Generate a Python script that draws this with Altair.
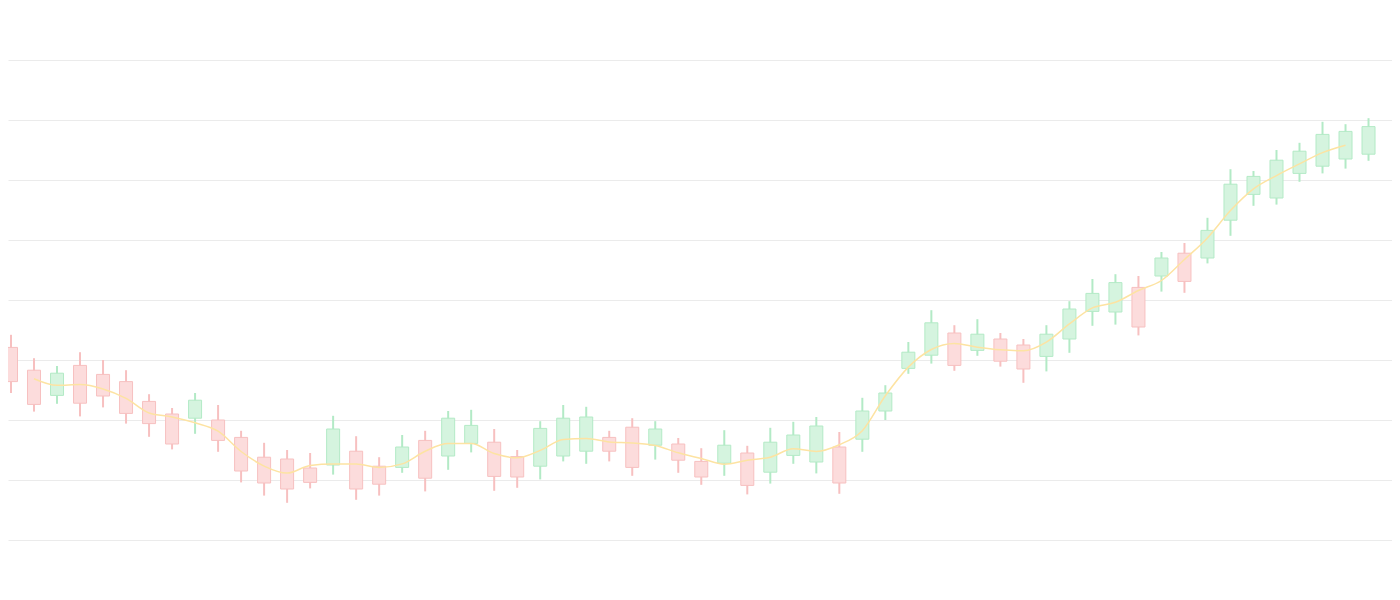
import altair as alt
import pandas as pd

opens = [112.1, 108.3, 104.1, 109.1, 107.6, 106.4, 103.1, 101.0, 100.3, 100.0,
         97.1, 93.8, 93.5, 92.0, 92.5, 94.8, 92.3, 92.1, 96.6, 94.0,
         96.1, 96.3, 93.9, 92.3, 94.0, 94.8, 97.1, 98.8, 95.8, 96.0,
         93.1, 92.8, 94.5, 91.3, 94.1, 93.0, 95.5, 96.8, 101.5, 108.6,
         110.8, 114.5, 111.6, 113.5, 112.5, 110.6, 113.5, 118.1, 118.0, 122.1,
         124.0, 127.8, 127.0, 133.3, 137.6, 137.0, 141.1, 142.3, 143.5, 144.3]
highs = [114.2, 110.3, 109.0, 111.3, 110.0, 108.3, 104.3, 102.0, 104.5, 102.5,
         98.2, 96.2, 95.0, 94.5, 100.7, 97.3, 93.8, 97.5, 98.2, 101.5,
         101.7, 98.5, 95.0, 99.8, 102.5, 102.2, 98.2, 100.3, 99.8, 97.0,
         95.3, 98.3, 95.7, 98.7, 99.7, 100.5, 98.0, 103.7, 105.8, 113.0,
         118.3, 115.8, 116.8, 114.5, 113.5, 115.8, 119.8, 123.5, 124.3, 124.0,
         128.0, 129.5, 133.7, 141.8, 141.5, 145.0, 146.2, 149.7, 149.3, 150.3]
lows = [104.5, 101.4, 102.7, 100.6, 102.1, 99.4, 97.2, 95.1, 97.7, 94.7,
        89.6, 87.4, 86.2, 88.6, 90.9, 86.7, 87.4, 91.2, 88.1, 91.7,
        94.6, 88.2, 88.7, 90.1, 93.1, 92.7, 93.1, 90.7, 93.4, 91.2,
        89.2, 90.7, 87.6, 89.4, 92.7, 91.1, 87.7, 94.7, 100.0, 107.7,
        109.4, 108.2, 110.7, 108.9, 106.2, 108.1, 111.2, 115.7, 115.9, 114.1,
        121.4, 121.2, 126.1, 130.7, 135.7, 135.9, 139.7, 141.1, 141.9, 143.2]
closes = [106.4, 102.6, 107.8, 102.8, 104.0, 101.1, 99.4, 96.0, 103.3, 96.6,
          91.5, 89.5, 88.5, 89.6, 98.5, 88.5, 89.3, 95.5, 90.3, 100.3,
          99.1, 90.6, 90.5, 98.6, 100.3, 100.5, 94.8, 92.1, 98.5, 93.3,
          90.5, 95.8, 89.1, 96.3, 97.5, 99.0, 89.5, 101.5, 104.5, 111.3,
          116.2, 109.1, 114.3, 109.8, 108.5, 114.3, 118.5, 121.1, 122.9, 115.5,
          127.0, 123.1, 131.6, 139.3, 140.6, 143.3, 144.8, 147.6, 148.1, 148.9]
grid_values = [80, 90, 100, 110, 120, 130, 140, 150, 160, 170]

df = pd.DataFrame({
    "i": list(range(len(opens))),
    "open": opens, "high": highs, "low": lows, "close": closes,
})

RED_FILL, RED_STROKE = "#fcdcdc", "#f7c0c0"
GRN_FILL, GRN_STROKE = "#d5f4df", "#b3eac6"

xscale = alt.Scale(domain=[-0.1304, 60.02], nice=False, zero=False, padding=0)
yscale = alt.Scale(domain=[80, 168.667], nice=False, zero=False, padding=0)

base = alt.Chart(df).transform_calculate(
    dir="datum.close >= datum.open ? 'up' : 'down'"
)

x = alt.X("i:Q", scale=xscale, axis=None)

wicks = base.mark_rule(strokeWidth=2).encode(
    x=x,
    y=alt.Y("low:Q", scale=yscale,
            axis=alt.Axis(values=grid_values, labels=False, ticks=False,
                          domain=False, grid=True, gridColor="#ebebeb", gridWidth=1,
                          title=None)),
    y2="high:Q",
    color=alt.Color("dir:N", scale=alt.Scale(domain=["up", "down"], range=[GRN_STROKE, RED_STROKE]),
                    legend=None),
)

boxes = base.mark_bar(size=13, strokeWidth=1).encode(
    x=x,
    y=alt.Y("open:Q", scale=yscale),
    y2="close:Q",
    fill=alt.Fill("dir:N", scale=alt.Scale(domain=["up", "down"], range=[GRN_FILL, RED_FILL]),
                  legend=None),
    stroke=alt.Stroke("dir:N", scale=alt.Scale(domain=["up", "down"], range=[GRN_STROKE, RED_STROKE]),
                      legend=None),
)

ma = base.transform_calculate(
    mid="(datum.open + datum.close) / 2"
).transform_window(
    ma="mean(mid)", n="count()", frame=[-1, 1], sort=[alt.SortField("i")]
).transform_filter("datum.n == 3").mark_line(
    color="#fde3a2", strokeWidth=1.5, interpolate="monotone"
).encode(
    x=x,
    y=alt.Y("ma:Q", scale=yscale),
)

chart = alt.layer(wicks, boxes, ma).resolve_scale(color="independent").properties(
    width=1384, height=532,
    autosize=alt.AutoSizeParams(type="none"),
    padding={"left": 0, "top": 0, "right": 0, "bottom": 4},
    background="white",
).configure_view(stroke=None)

chart.save("out.html", embed_options={"renderer": "svg", "actions": False})
